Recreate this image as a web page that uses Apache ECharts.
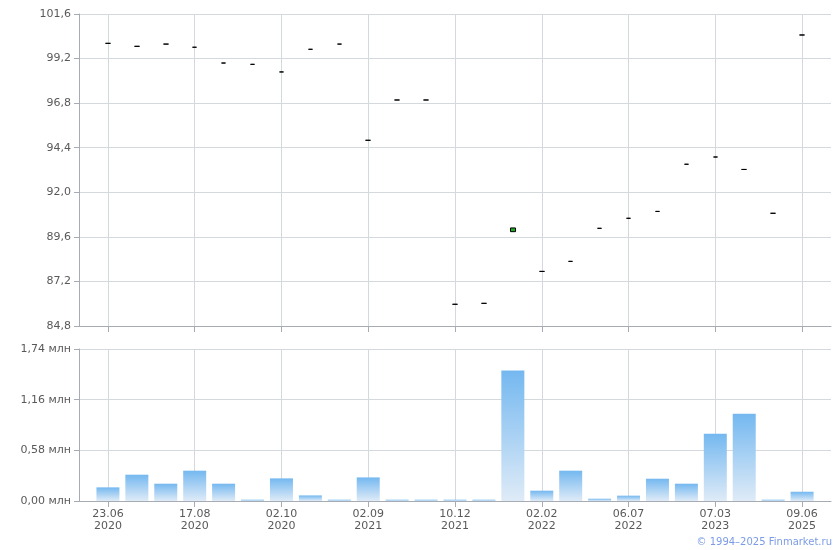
<!DOCTYPE html>
<html>
<head>
<meta charset="utf-8">
<script src="https://cdn.jsdelivr.net/npm/echarts@6/dist/echarts.min.js"></script>
<style>html,body{margin:0;padding:0;background:#fff}#c{width:840px;height:550px}</style>
</head>
<body>
<div id="c"></div>
<script>
// Category tick labels (only every 3rd is shown in the reference)
const dates = ['23.06\n2020','','','17.08\n2020','','','02.10\n2020','','','02.09\n2021','','','10.12\n2021','','','02.02\n2022','','','06.07\n2022','','','07.03\n2023','','','09.06\n2025'];
// Prices
const opens  = [100.02,99.86,99.98,99.81,98.96,98.89,98.48,99.70,99.98,94.80,96.97,96.97,85.97,86.02,89.88,87.74,88.28,90.06,90.60,90.97,93.51,93.90,93.23,90.87,100.47];
const closes = [100.02,99.86,99.98,99.81,98.96,98.89,98.48,99.70,99.98,94.80,96.97,96.97,85.97,86.02,90.08,87.74,88.28,90.06,90.60,90.97,93.51,93.90,93.23,90.87,100.47];
// Volume, mln
const volumes = [0.156,0.301,0.198,0.347,0.198,0.015,0.259,0.064,0.015,0.270,0.015,0.015,0.015,0.015,1.495,0.118,0.347,0.026,0.061,0.255,0.198,0.770,0.999,0.015,0.106];
const priceTicks = {min:84.8, max:101.6, interval:2.4};
const volTicks = {min:0, max:1.74, interval:0.58};

const cats = [''].concat(dates, ['']);
const ohlc = ['-'].concat(opens.map((o,i)=>[o, closes[i], Math.min(o,closes[i]), Math.max(o,closes[i])]), ['-']);
const vols = ['-'].concat(volumes, ['-']);
const showIdx = (i) => i>=1 && i<=25 && (i-1)%3===0;

const gridColor = '#d3d9dd';
const axisColor = '#a7abb3';
const textColor = '#595959';
const font = 'DejaVu Sans, Verdana, sans-serif';

const chart = echarts.init(document.getElementById('c'));
chart.setOption({
  animation:false,
  backgroundColor:'#fff',
  grid:[
    {left:79, right:9, top:14, height:312},
    {left:79, right:9, top:349, height:152}
  ],
  xAxis:[
    {type:'category', gridIndex:0, data:cats, boundaryGap:false,
     axisLine:{lineStyle:{color:axisColor}},
     axisTick:{show:true, interval:(i)=>showIdx(i), length:6, lineStyle:{color:axisColor}},
     axisLabel:{show:false},
     splitLine:{show:true, interval:(i)=>showIdx(i), lineStyle:{color:gridColor}}},
    {type:'category', gridIndex:1, data:cats, boundaryGap:false,
     axisLine:{lineStyle:{color:axisColor}},
     axisTick:{show:true, interval:(i)=>showIdx(i), length:6, lineStyle:{color:axisColor}},
     axisLabel:{interval:(i)=>showIdx(i), color:textColor, fontFamily:font, fontSize:11, lineHeight:12, margin:7},
     splitLine:{show:true, interval:(i)=>showIdx(i), lineStyle:{color:gridColor}}}
  ],
  yAxis:[
    {type:'value', gridIndex:0, min:priceTicks.min, max:priceTicks.max, interval:priceTicks.interval,
     axisLine:{show:true, lineStyle:{color:axisColor}},
     axisTick:{show:true, length:5, lineStyle:{color:axisColor}},
     axisLabel:{color:textColor, fontFamily:font, fontSize:11, margin:8,
       formatter:(v)=>v.toFixed(1).replace('.',',')},
     splitLine:{lineStyle:{color:gridColor}}},
    {type:'value', gridIndex:1, min:volTicks.min, max:volTicks.max, interval:volTicks.interval,
     axisLine:{show:true, lineStyle:{color:axisColor}},
     axisTick:{show:true, length:5, lineStyle:{color:axisColor}},
     axisLabel:{color:textColor, fontFamily:font, fontSize:11, margin:8,
       formatter:(v)=>v.toFixed(2).replace('.',',')+' млн'},
     splitLine:{lineStyle:{color:gridColor}}}
  ],
  series:[
    {type:'candlestick', xAxisIndex:0, yAxisIndex:0, data:ohlc, barWidth:5,
     itemStyle:{color:'#1fae1f', color0:'#000', borderColor:'#000', borderColor0:'#000', borderWidth:1}},
    {type:'bar', xAxisIndex:1, yAxisIndex:1, data:vols, barWidth:23,
     itemStyle:{color:new echarts.graphic.LinearGradient(0,0,0,1,[{offset:0,color:'#74b8f0'},{offset:1,color:'#dfebf7'}])}}
  ],
  graphic:[
    {type:'text', right:8, top:537, style:{text:'© 1994–2025 Finmarket.ru', fill:'#7b9be6', font:'10px '+font}}
  ]
});
</script>
</body>
</html>
